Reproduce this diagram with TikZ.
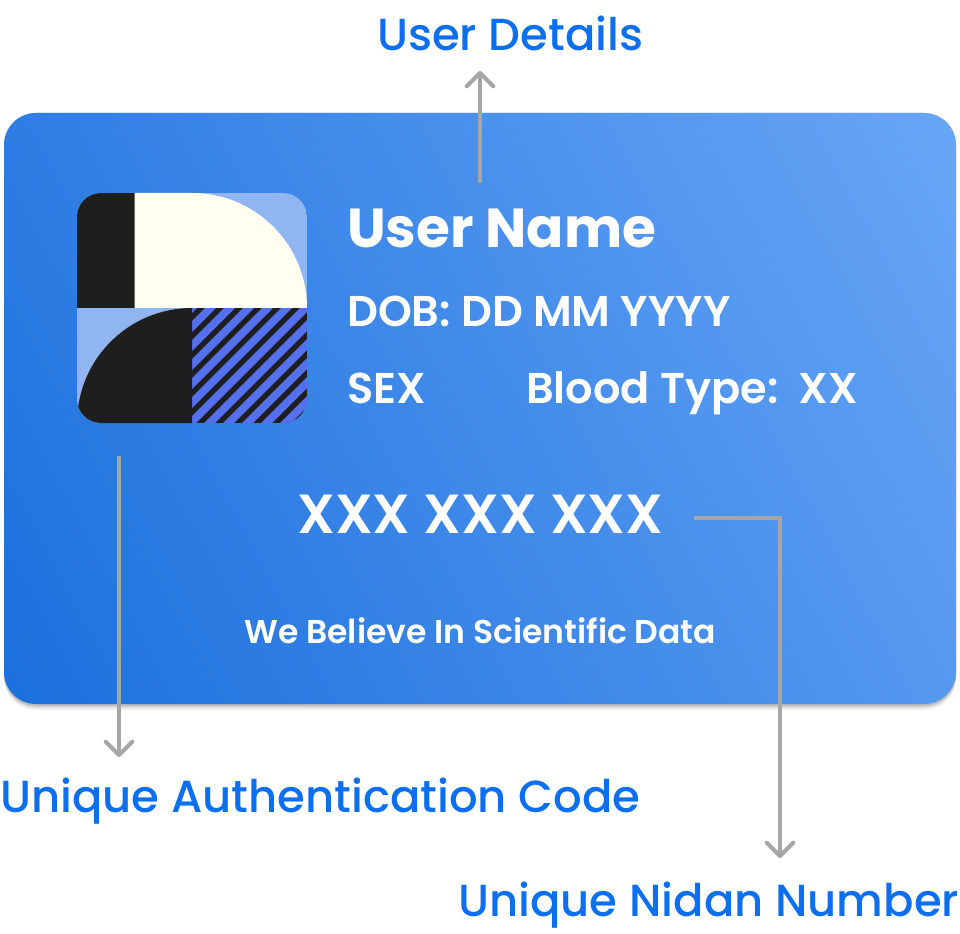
\documentclass[tikz,border=0pt]{standalone}
\usepackage{fontspec}
\setmainfont{Poppins}[UprightFont=* Medium,BoldFont=* Bold]
\newfontfamily\semifont{Poppins SemiBold}
\usetikzlibrary{arrows.meta}
\definecolor{cardlow}{HTML}{1B6FDD}
\definecolor{cardhigh}{HTML}{68A6F6}
\definecolor{labelblue}{HTML}{0B6FF0}
\definecolor{lineg}{HTML}{A6A6A6}
\definecolor{logodark}{HTML}{1E1E1E}
\definecolor{logocream}{HTML}{FFFEF0}
\definecolor{logosky}{HTML}{90B5F0}
\definecolor{logostripe}{HTML}{5570EE}
\pgfdeclareverticalshading{cardfade}{100bp}{color(0bp)=(cardlow); color(16bp)=(cardlow); color(84bp)=(cardhigh); color(100bp)=(cardhigh)}
\tikzset{
  cardtext/.style={anchor=base west,inner sep=0pt,text=white},
  labeltext/.style={anchor=base west,inner sep=0pt,text=labelblue,font=\fontsize{33.7}{33.7}\selectfont},
  pointer/.style={draw=lineg,line width=3pt,-{Straight Barb[length=10pt,width=20pt,line width=3pt,round]}}
}
\begin{document}
\begin{tikzpicture}[x=0.75pt,y=-0.75pt]
    \useasboundingbox (0,0) rectangle (960,934);
    % card
    \foreach \o/\a in {6/0.06,4/0.09,2/0.14} {
      \fill [black,opacity=\a,rounded corners=24pt] (4,113) rectangle (956,704+\o);
    }
    \shade [rounded corners=24pt,shading=cardfade,shading angle=-62] (4,113) rectangle (956,704);
    % logo
    \begin{scope}
      \clip [rounded corners=18pt] (77,193) rectangle (307,423);
      \fill [logosky] (77,193) rectangle (307,423);
      \fill [logodark] (192,308) rectangle (307,423);
      \begin{scope}
        \clip (192,308) rectangle (307,423);
        \foreach \k in {0,...,13} {
          \fill [logostripe] (192+19*\k-121,423) -- ++(11,0) -- ++(115,-115) -- ++(-11,0) -- cycle;
        }
      \end{scope}
      \fill [logodark] (77,193) rectangle (134.5,308);
      \fill [logocream] (134.5,193) -- (192,193) arc [start angle=90,end angle=0,x radius=115,y radius=-115] -- (134.5,308) -- cycle;
      \fill [logodark] (192,308) arc [start angle=90,end angle=180,x radius=115,y radius=-115] -- (77,423) -- (192,423) -- cycle;
    \end{scope}
    % texts
    \node [cardtext,font=\bfseries\fontsize{41.2}{41.2}\selectfont] (username) at (347,248) {User Name};
    \node [cardtext,font=\semifont\fontsize{32.3}{32.3}\selectfont] (dob) at (347,326) {DOB: DD MM YYYY};
    \node [cardtext,font=\semifont\fontsize{32.3}{32.3}\selectfont] (sex) at (347,403) {SEX};
    \node [cardtext,font=\semifont\fontsize{32.3}{32.3}\selectfont] (blood) at (526,403) {Blood Type:\ \ XX};
    \node [cardtext,font=\semifont\fontsize{41.3}{41.3}\selectfont] (code) at (297,533) {XXX XXX XXX};
    \node [cardtext,font=\semifont\fontsize{24.75}{24.75}\selectfont] (motto) at (244,643.5) {We Believe In Scientific Data};
    \node [labeltext] (details) at (377,50.5) {User Details};
    \node [labeltext] (authcode) at (0,812) {Unique Authentication Code};
    \node [labeltext] (nidan) at (458,916) {Unique Nidan Number};
    % connectors
    \coordinate (detailsfoot) at (480,183);
    \coordinate (detailstip) at (480,71);
    \coordinate (authfoot) at (119,456);
    \coordinate (authtip) at (119,757);
    \coordinate (nidanfoot) at (694,518);
    \coordinate (nidantip) at (780,858);
    \draw [pointer] (detailsfoot) -- (detailstip);
    \draw [pointer] (authfoot) -- (authtip);
    \draw [pointer] (nidanfoot) -| (nidantip);
\end{tikzpicture}
\end{document}
